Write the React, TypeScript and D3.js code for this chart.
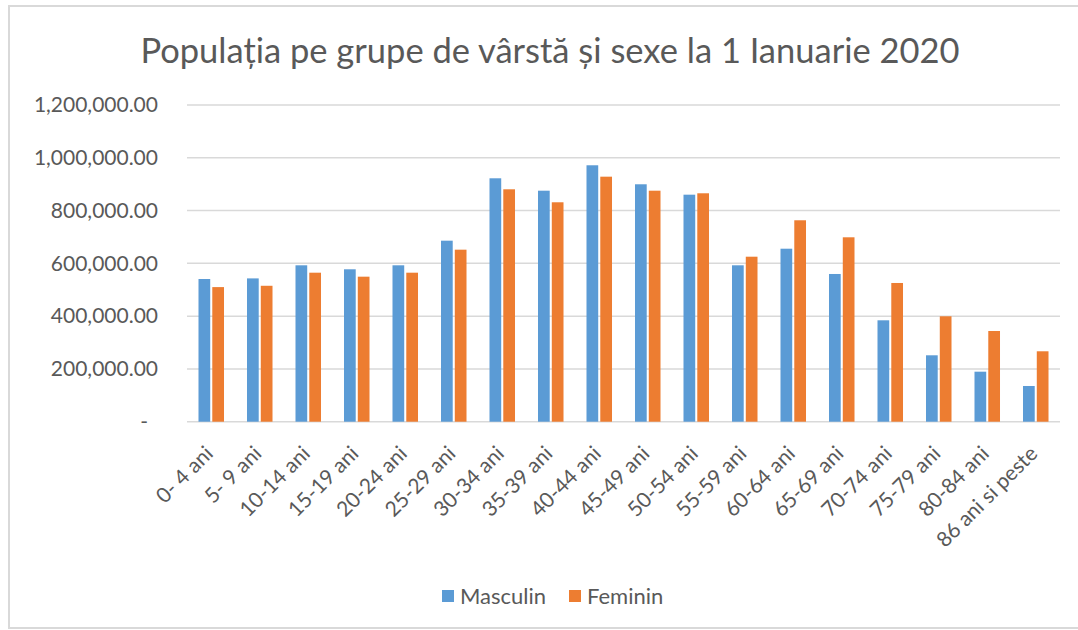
import React from "react";
import * as d3 from "d3";

const categories = [
  "0- 4 ani", "5- 9 ani", "10-14 ani", "15-19 ani", "20-24 ani", "25-29 ani",
  "30-34 ani", "35-39 ani", "40-44 ani", "45-49 ani", "50-54 ani", "55-59 ani",
  "60-64 ani", "65-69 ani", "70-74 ani", "75-79 ani", "80-84 ani", "86 ani si peste",
];
const masculin = [
  540700, 543000, 592600, 577500, 592600, 685900, 922300, 875300, 971600,
  899600, 860200, 592600, 655500, 559700, 384200, 251600, 189500, 135300,
];
const feminin = [
  510000, 515000, 564600, 549500, 564600, 651800, 880600, 831400, 928400,
  875300, 865500, 625200, 763200, 698700, 525600, 399400, 343700, 266800,
];
const seriesNames = ["Masculin", "Feminin"];
const seriesColors = ["#5B9BD5", "#ED7D31"];
const yTicks = [0, 200000, 400000, 600000, 800000, 1000000, 1200000];
const title = "Populația pe grupe de vârstă și sexe la 1 Ianuarie 2020";

const W = 1078;
const H = 630;
const FONT = "Lato, 'Open Sans', sans-serif";
const TEXT = "#595959";

export default function App() {
  const left = 187;
  const right = 1060;
  const top = 105;
  const bottom = 421.7;

  const x = d3.scaleBand<string>().domain(categories).range([left, right]).paddingInner(0.474).paddingOuter(0.237);
  const x1 = d3.scaleBand<string>().domain(seriesNames).range([0, x.bandwidth()]).paddingInner(0.15);
  const y = d3.scaleLinear().domain([0, 1200000]).range([bottom, top]);
  const fmt = d3.format(",.2f");
  const values = [masculin, feminin];

  return (
    <svg width={W} height={H} style={{ position: "absolute", left: 0, top: 0, background: "#fff" }}>
      <rect x={9} y={6} width={W} height={622} fill="#fff" stroke="#D9D9D9" strokeWidth={2} />
      <text x={550} y={63} textAnchor="middle" fontFamily={FONT} fontSize={34.5} fill={TEXT}>{title}</text>
      {yTicks.map((t) => (
        <g key={t}>
          <line x1={left} x2={right} y1={y(t)} y2={y(t)} stroke="#D9D9D9" strokeWidth={1.5} />
          <text x={t === 0 ? 148 : 158} y={y(t)} dy="0.35em" textAnchor="end" fontFamily={FONT} fontSize={21} fill={TEXT}>
            {t === 0 ? "-" : fmt(t)}
          </text>
        </g>
      ))}
      {categories.map((c, i) => (
        <g key={c}>
          {seriesNames.map((s, j) => (
            <rect
              key={s}
              x={(x(c) as number) + (x1(s) as number)}
              y={y(values[j][i])}
              width={x1.bandwidth()}
              height={bottom - y(values[j][i])}
              fill={seriesColors[j]}
            />
          ))}
          <text
            transform={`translate(${(x(c) as number) + x.bandwidth() / 2 + 3},${455}) rotate(-45)`}
            textAnchor="end"
            fontFamily={FONT}
            fontSize={21}
            fill={TEXT}
          >
            {c}
          </text>
        </g>
      ))}
      {seriesNames.map((s, j) => {
        const lx = j === 0 ? 442 : 569;
        return (
          <g key={s}>
            <rect x={lx} y={590} width={12} height={12} fill={seriesColors[j]} />
            <text x={lx + 18} y={596} dy="0.35em" fontFamily={FONT} fontSize={22} fill={TEXT}>{s}</text>
          </g>
        );
      })}
    </svg>
  );
}
